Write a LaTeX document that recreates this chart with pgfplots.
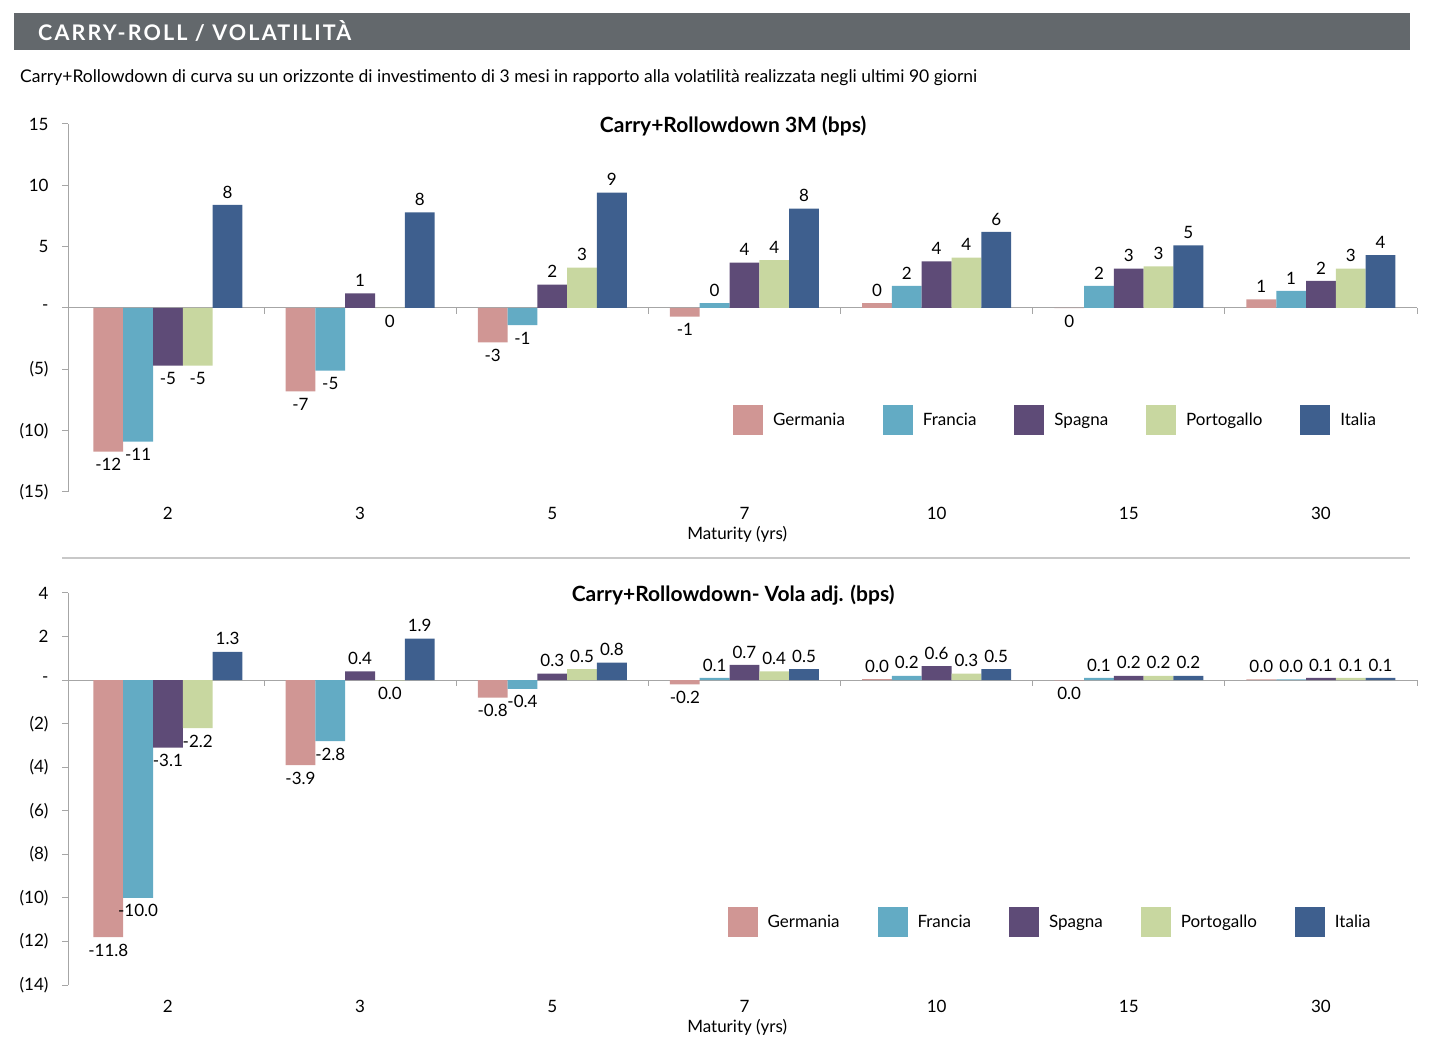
\documentclass[border=0pt]{standalone}
\usepackage{pgfplots}
\pgfplotsset{compat=1.18}
\usepackage{fontspec}
\setmainfont{Lato}
\definecolor{cGer}{RGB}{208,150,148}
\definecolor{cFra}{RGB}{99,171,196}
\definecolor{cSpa}{RGB}{94,75,119}
\definecolor{cPor}{RGB}{200,215,160}
\definecolor{cIta}{RGB}{62,95,142}
\definecolor{hdr}{RGB}{99,104,108}
\definecolor{axgray}{RGB}{166,166,166}
\definecolor{sepgray}{RGB}{200,200,200}
\pgfplotsset{
  mybars/.style={
    scale only axis, width=1349bp, anchor=south west,
    xmin=-0.52, xmax=6.5,
    ybar=0pt, bar width=29.8bp,
    axis y line*=left, axis x line*=bottom,
    x axis line style={draw=none},
    y axis line style={draw=axgray, line width=1bp},
    xtick={0,...,6}, xticklabels={2,3,5,7,10,15,30},
    xtick style={draw=none},
    ytick style={draw=axgray, line width=1bp},
    tick align=outside, major tick length=6bp,
    tick label style={font=\fontsize{17bp}{20bp}\selectfont},
    yticklabel style={xshift=-10bp},
    xticklabel style={yshift=-6bp},
    xlabel={Maturity (yrs)},
    xlabel style={font=\fontsize{17bp}{20bp}\selectfont, at={(axis description cs:0.496,0)}, anchor=center, yshift=-42bp},
    title style={font=\bfseries\fontsize{21bp}{24bp}\selectfont, at={(axis description cs:0.493,1)}, anchor=center, yshift=-8bp},
    clip=false,
    point meta=explicit symbolic,
    visualization depends on={rawy \as \rawy},
    nodes near coords,
    every node near coord/.append style={font=\fontsize{17bp}{20bp}\selectfont, inner sep=6.5bp, text=black,
      anchor={\ifdim\rawy pt<0pt north\else south\fi}},
    legend columns=5,
    legend style={draw=none, fill=none, font=\fontsize{17bp}{20bp}\selectfont, anchor=center,
      /tikz/every even column/.append style={column sep=36bp}},
    legend image code/.code={\fill[##1] (0bp,-15bp) rectangle (30bp,15bp); \path (38bp,0bp);},
  }
}
\begin{document}
\begin{tikzpicture}[x=1bp,y=1bp]
\path[use as bounding box] (0,0) rectangle (1432,1062);
\fill[hdr] (14,1012) rectangle (1410,1049);
\node[anchor=west, text=white, font=\bfseries\fontsize{21.5bp}{24bp}\selectfont\addfontfeature{LetterSpace=10}, inner sep=0] at (38,1031) {CARRY-ROLL / VOLATILITÀ};
\node[anchor=west, inner sep=0, font=\fontsize{17.5bp}{20bp}\selectfont] at (20,984) {Carry+Rollowdown di curva su un orizzonte di investimento di 3 mesi in rapporto alla volatilità realizzata negli ultimi 90 giorni};
\draw[sepgray, line width=1.5bp] (62,504) -- (1410,504);

\begin{axis}[mybars, at={(68bp,570bp)}, height=368bp,
  ymin=-15, ymax=15, ytick={-15,-10,-5,0,5,10,15},
  yticklabels={(15),(10),(5),-,5,10,15},
  title={Carry+Rollowdown 3M (bps)},
  legend style={at={(0.732,0.196)}}]
\draw[axgray, line width=1bp] (axis cs:-0.52,0) -- (axis cs:6.5,0);
\pgfplotsinvokeforeach{0.5,1.5,2.5,3.5,4.5,5.5,6.5}{\draw[axgray, line width=1bp] (axis cs:#1,0) -- ([yshift=-6bp]axis cs:#1,0);}
\addplot[fill=cGer, draw=none] table[x=x,y=y,meta=lab] {
x y lab
0 -11.7 -12
1 -6.8 -7
2 -2.8 -3
3 -0.7 -1
4 0.4 0
5 -0.01 0
6 0.7 1
};
\addplot[fill=cFra, draw=none] table[x=x,y=y,meta=lab] {
x y lab
0 -10.9 -11
1 -5.1 -5
2 -1.4 -1
3 0.4 0
4 1.8 2
5 1.8 2
6 1.4 1
};
\addplot[fill=cSpa, draw=none] table[x=x,y=y,meta=lab] {
x y lab
0 -4.7 -5
1 1.2 1
2 1.9 2
3 3.7 4
4 3.8 4
5 3.2 3
6 2.2 2
};
\addplot[fill=cPor, draw=none] table[x=x,y=y,meta=lab] {
x y lab
0 -4.7 -5
1 -0.01 0
2 3.3 3
3 3.9 4
4 4.1 4
5 3.4 3
6 3.2 3
};
\addplot[fill=cIta, draw=none] table[x=x,y=y,meta=lab] {
x y lab
0 8.4 8
1 7.8 8
2 9.4 9
3 8.1 8
4 6.2 6
5 5.1 5
6 4.3 4
};
\legend{Germania,Francia,Spagna,Portogallo,Italia}
\end{axis}

\begin{axis}[mybars, at={(68bp,77bp)}, height=392bp,
  ymin=-14, ymax=4, ytick={-14,-12,-10,-8,-6,-4,-2,0,2,4},
  yticklabels={(14),(12),(10),(8),(6),(4),(2),-,2,4},
  title={Carry+Rollowdown- Vola adj. (bps)},
  legend style={at={(0.728,0.161)}}]
\draw[axgray, line width=1bp] (axis cs:-0.52,0) -- (axis cs:6.5,0);
\pgfplotsinvokeforeach{0.5,1.5,2.5,3.5,4.5,5.5,6.5}{\draw[axgray, line width=1bp] (axis cs:#1,0) -- ([yshift=-6bp]axis cs:#1,0);}
\addplot[fill=cGer, draw=none] table[x=x,y=y,meta=lab] {
x y lab
0 -11.8 -11.8
1 -3.9 -3.9
2 -0.8 -0.8
3 -0.2 -0.2
4 0.05 0.0
5 -0.01 0.0
6 0.03 0.0
};
\addplot[fill=cFra, draw=none] table[x=x,y=y,meta=lab] {
x y lab
0 -10.0 -10.0
1 -2.8 -2.8
2 -0.4 -0.4
3 0.1 0.1
4 0.2 0.2
5 0.1 0.1
6 0.03 0.0
};
\addplot[fill=cSpa, draw=none] table[x=x,y=y,meta=lab] {
x y lab
0 -3.1 -3.1
1 0.4 0.4
2 0.3 0.3
3 0.7 0.7
4 0.64 0.6
5 0.2 0.2
6 0.1 0.1
};
\addplot[fill=cPor, draw=none] table[x=x,y=y,meta=lab] {
x y lab
0 -2.2 -2.2
1 -0.01 0.0
2 0.5 0.5
3 0.4 0.4
4 0.3 0.3
5 0.2 0.2
6 0.1 0.1
};
\addplot[fill=cIta, draw=none] table[x=x,y=y,meta=lab] {
x y lab
0 1.3 1.3
1 1.9 1.9
2 0.8 0.8
3 0.5 0.5
4 0.5 0.5
5 0.2 0.2
6 0.1 0.1
};
\legend{Germania,Francia,Spagna,Portogallo,Italia}
\end{axis}
\end{tikzpicture}
\end{document}
